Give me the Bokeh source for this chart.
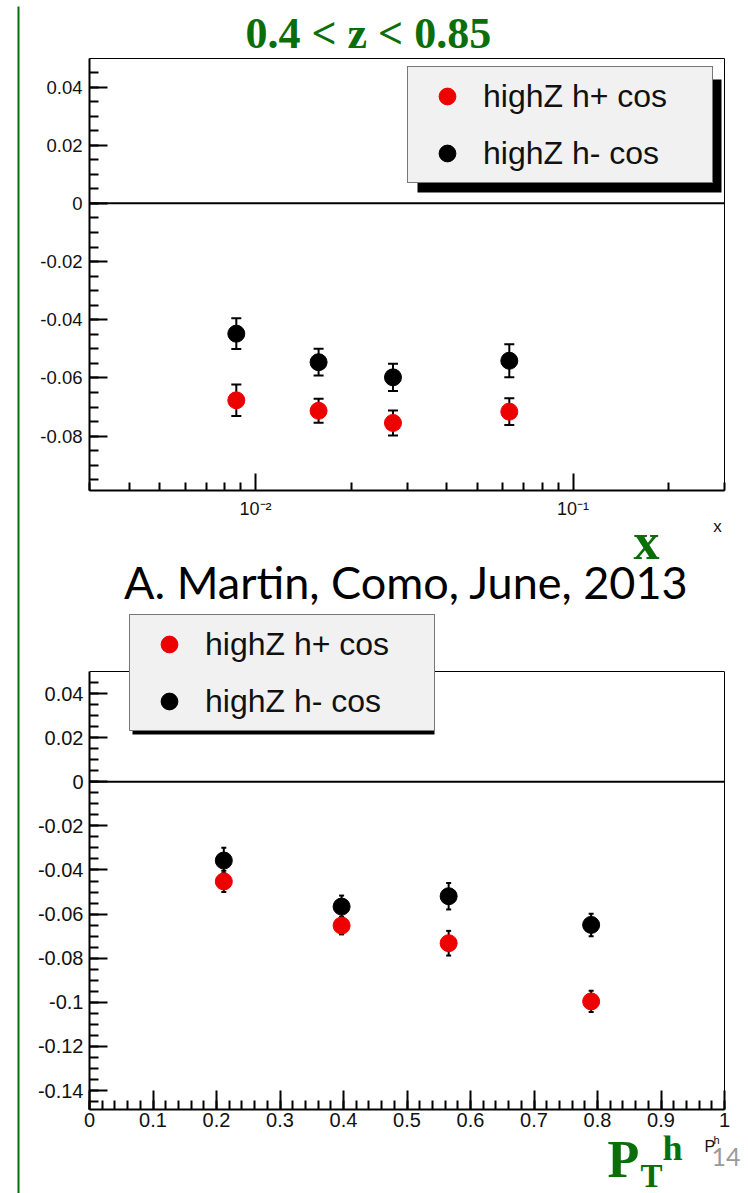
from bokeh.plotting import figure
from bokeh.layouts import column, row
from bokeh.models import (ColumnDataSource, Whisker, TeeHead, Span, Legend, LegendItem,
                          Label, BoxAnnotation, FixedTicker, LinearAxis)
from bokeh.embed import file_html
from bokeh.resources import INLINE

# ---------------- data ----------------
# top panel: asymmetry vs x (log scale)
x_top = [0.0087, 0.0158, 0.0271, 0.063]
hplus_top = [-0.0677, -0.0713, -0.0755, -0.0716]
hplus_top_err = [0.0054, 0.0041, 0.0043, 0.0046]
hminus_top = [-0.0448, -0.0546, -0.0598, -0.0541]
hminus_top_err = [0.0053, 0.0046, 0.0047, 0.0057]

# bottom panel: asymmetry vs P_T^h
pt_bot = [0.2115, 0.397, 0.5656, 0.79]
hplus_bot = [-0.0452, -0.0652, -0.0732, -0.0996]
hplus_bot_err = [0.0048, 0.0040, 0.0056, 0.0048]
hminus_bot = [-0.0357, -0.0566, -0.0519, -0.0649]
hminus_bot_err = [0.0058, 0.0050, 0.0060, 0.0051]

series_labels = ["highZ h+ cos", "highZ h- cos"]

top_y_ticks = [-0.08, -0.06, -0.04, -0.02, 0.0, 0.02, 0.04]
top_y_labels = ["-0.08", "-0.06", "-0.04", "-0.02", "0", "0.02", "0.04"]
top_x_ticks = [0.01, 0.1]
top_x_labels = ["10\u207b\u00b2", "10\u207b\u00b9"]
top_x_minor = [0.003, 0.004, 0.005, 0.006, 0.007, 0.008, 0.009,
               0.02, 0.03, 0.04, 0.05, 0.06, 0.07, 0.08, 0.09, 0.2, 0.3]

bot_y_ticks = [-0.14, -0.12, -0.1, -0.08, -0.06, -0.04, -0.02, 0.0, 0.02, 0.04]
bot_y_labels = ["-0.14", "-0.12", "-0.1", "-0.08", "-0.06", "-0.04", "-0.02", "0", "0.02", "0.04"]
bot_x_ticks = [0.0, 0.1, 0.2, 0.3, 0.4, 0.5, 0.6, 0.7, 0.8, 0.9, 1.0]
bot_x_labels = ["0", "0.1", "0.2", "0.3", "0.4", "0.5", "0.6", "0.7", "0.8", "0.9", "1"]

GREEN = "#0a6e0a"
TICK_FONT = "Liberation Sans"
X0 = 20          # width of the left strip holding the green rule
W = 748 - X0


def minor_list(lo, hi, step):
    n = int(round((hi - lo) / step))
    return [round(lo + i * step, 4) for i in range(n + 1)]


def style_axes(p, xfs, yfs, x_standoff, y_standoff):
    for ax in (p.xaxis[0], p.yaxis[0]):
        ax.axis_line_width = 2
        ax.axis_line_color = "black"
        ax.major_tick_line_width = 2
        ax.minor_tick_line_width = 2
        ax.major_tick_line_color = "black"
        ax.minor_tick_line_color = "black"
        ax.major_tick_out = 0
        ax.minor_tick_out = 0
        ax.major_label_text_font = TICK_FONT
        ax.major_label_text_color = "#111111"
    p.yaxis[0].major_tick_in = 18
    p.yaxis[0].minor_tick_in = 9
    p.xaxis[0].major_tick_in = 17
    p.xaxis[0].minor_tick_in = 8
    p.xaxis[0].major_label_text_font_size = xfs
    p.yaxis[0].major_label_text_font_size = yfs
    p.xaxis[0].major_label_standoff = x_standoff
    p.yaxis[0].major_label_standoff = y_standoff
    p.grid.visible = False
    p.background_fill_color = "white"
    p.border_fill_color = "white"


def add_series(p, xs, ys, errs, color, cap):
    src = ColumnDataSource(dict(x=xs, y=ys,
                                lo=[a - b for a, b in zip(ys, errs)],
                                hi=[a + b for a, b in zip(ys, errs)]))
    w = Whisker(source=src, base="x", lower="lo", upper="hi", line_color="black", line_width=2,
                lower_head=TeeHead(size=cap, line_width=2, line_color="black"),
                upper_head=TeeHead(size=cap, line_width=2, line_color="black"),
                level="underlay")
    p.add_layout(w)
    return p.scatter("x", "y", source=src, size=17, fill_color=color, line_color=color)


def make_legend(p, r_red, r_black, loc):
    leg = Legend(items=[LegendItem(label=series_labels[0], renderers=[r_red]),
                        LegendItem(label=series_labels[1], renderers=[r_black])],
                 location=loc, padding=8, spacing=15, glyph_width=62, glyph_height=42,
                 label_height=42, label_standoff=5, label_width=221, margin=0,
                 label_text_font=TICK_FONT, label_text_font_size="32px",
                 label_text_color="#111111",
                 background_fill_color="#f1f1f1", background_fill_alpha=1.0,
                 border_line_color="black", border_line_width=1)
    p.add_layout(leg)


def canvas_label(p, top, x, y, text, font, size, color, align="left", style="normal"):
    # x, y given in page pixels; converted to this figure's canvas pixels
    p.add_layout(Label(x=x - X0, y=y - top, x_units="canvas", y_units="canvas", text=text,
                       text_font=font, text_font_size=size, text_color=color,
                       text_align=align, text_baseline="alphabetic", text_font_style=style))


def canvas_box(p, top, l, r, t, b, color):
    p.add_layout(BoxAnnotation(left=l - X0, right=r - X0, top=t - top, bottom=b - top,
                               left_units="canvas", right_units="canvas",
                               top_units="canvas", bottom_units="canvas",
                               fill_color=color, fill_alpha=1.0, line_color=None, level="annotation"))


# ---------------- left strip with green rule ----------------
p0 = figure(width=X0, height=1193, x_range=(0, X0), y_range=(0, 1193), output_backend="svg",
            toolbar_location=None, min_border=0, x_axis_location=None, y_axis_location=None)
p0.grid.visible = False
p0.outline_line_color = None
p0.add_layout(BoxAnnotation(left=17, right=19, bottom=0, top=1187, fill_color=GREEN,
                            fill_alpha=1.0, line_color=None))

# ---------------- top figure ----------------
T1 = 0
H1 = 521
p1 = figure(width=W, height=H1, x_axis_type="log", x_range=(0.003, 0.3), y_range=(-0.0987, 0.0498),
            output_backend="svg", toolbar_location=None,
            min_border_left=89 - X0, min_border_right=748 - 727, min_border_top=58, min_border_bottom=H1 - 491)
style_axes(p1, "18px", "18.5px", 8, 7)
p1.outline_line_color = "black"
p1.outline_line_width = 1
p1.xaxis[0].ticker = FixedTicker(ticks=top_x_ticks, minor_ticks=top_x_minor)
p1.xaxis[0].major_label_overrides = dict(zip(top_x_ticks, top_x_labels))
p1.yaxis[0].ticker = FixedTicker(ticks=top_y_ticks, minor_ticks=minor_list(-0.095, 0.045, 0.005))
p1.yaxis[0].major_label_overrides = dict(zip(top_y_ticks, top_y_labels))
p1.add_layout(Span(location=0, dimension="width", line_color="black", line_width=2, level="underlay"))

p1.title.text = "0.4 < z < 0.85"
p1.title.align = "left"
p1.title.offset = 245 - 89
p1.title.standoff = 2
p1.title.text_font = "Liberation Serif"
p1.title.text_font_size = "44px"
p1.title.text_font_style = "bold"
p1.title.text_color = GREEN

rb1 = add_series(p1, x_top, hminus_top, hminus_top_err, "black", 10)
rr1 = add_series(p1, x_top, hplus_top, hplus_top_err, "#ee0000", 10)
canvas_box(p1, T1, 417, 721, 79, 192, "black")
make_legend(p1, rr1, rb1, (318, 307))

# ---------------- bottom figure (frame extended upward for the texts and legend) ----------------
T2 = H1
B2 = 1135
H2 = B2 - T2
Y_TOP, Y_BOT = 0.05, -0.1486
PX_PER_UNIT = (1109 - 671) / (Y_TOP - Y_BOT)
y_ext_top = Y_TOP + (671 - T2) / PX_PER_UNIT
p2 = figure(width=W, height=H2, x_range=(0.0, 1.0), y_range=(Y_BOT, y_ext_top),
            output_backend="svg", toolbar_location=None,
            min_border_left=87 - X0, min_border_right=748 - 724, min_border_top=0, min_border_bottom=B2 - 1109)
style_axes(p2, "20px", "20px", 3, 6)
p2.outline_line_color = None
p2.xaxis[0].major_tick_in = 19
p2.xaxis[0].minor_tick_in = 9
p2.xaxis[0].ticker = FixedTicker(ticks=bot_x_ticks, minor_ticks=minor_list(0.0, 1.0, 0.02))
p2.xaxis[0].major_label_overrides = dict(zip(bot_x_ticks, bot_x_labels))
p2.yaxis[0].bounds = (Y_BOT, Y_TOP)
p2.yaxis[0].ticker = FixedTicker(ticks=bot_y_ticks, minor_ticks=minor_list(-0.145, 0.045, 0.005))
p2.yaxis[0].major_label_overrides = dict(zip(bot_y_ticks, bot_y_labels))
right_ax = LinearAxis(bounds=(Y_BOT, Y_TOP), ticker=FixedTicker(ticks=[]), axis_line_width=1,
                      axis_line_color="black", major_tick_in=0, major_tick_out=0,
                      minor_tick_in=0, minor_tick_out=0)
p2.add_layout(right_ax, "right")
p2.add_layout(Span(location=Y_TOP, dimension="width", line_color="black", line_width=1, level="underlay"))
p2.add_layout(Span(location=0, dimension="width", line_color="black", line_width=2, level="underlay"))

rb2 = add_series(p2, pt_bot, hminus_bot, hminus_bot_err, "black", 5)
rr2 = add_series(p2, pt_bot, hplus_bot, hplus_bot_err, "#ee0000", 5)
canvas_box(p2, T2, 132, 434, 621, 734, "black")
make_legend(p2, rr2, rb2, (127 - 87, 1109 - 616 - 115))

canvas_label(p2, T2, 717, 526, "x", TICK_FONT, "17px", "#111111", "center")
canvas_label(p2, T2, 633, 541, "x", "Liberation Serif", "52px", GREEN, "left", "bold")
canvas_label(p2, T2, 406, 581, "A. Martin, Como, June, 2013", "Lato", "45px", "black", "center")

# ---------------- bottom strip: axis title and page number ----------------
T3 = B2
H3 = 1193 - B2
p3 = figure(width=W, height=H3, x_range=(0, 1), y_range=(0, 1), output_backend="svg",
            toolbar_location=None, min_border=0, x_axis_location=None, y_axis_location=None)
p3.grid.visible = False
p3.outline_line_color = None
canvas_label(p3, T3, 607, 1159, "P", "Liberation Serif", "52px", GREEN, "left", "bold")
canvas_label(p3, T3, 640, 1175, "T", "Liberation Serif", "33px", GREEN, "left", "bold")
canvas_label(p3, T3, 662, 1147, "h", "Liberation Serif", "36px", GREEN, "left", "bold")
canvas_label(p3, T3, 704, 1146, "P", TICK_FONT, "16px", "#111111")
canvas_label(p3, T3, 713, 1139, "h", TICK_FONT, "11px", "#111111")
canvas_label(p3, T3, 711, 1156, "14", "Lato", "25px", "#9a9a9a")

layout = row(p0, column(p1, p2, row(p3, spacing=0), spacing=0), spacing=0)
open("out.html", "w").write(file_html(layout, INLINE))
